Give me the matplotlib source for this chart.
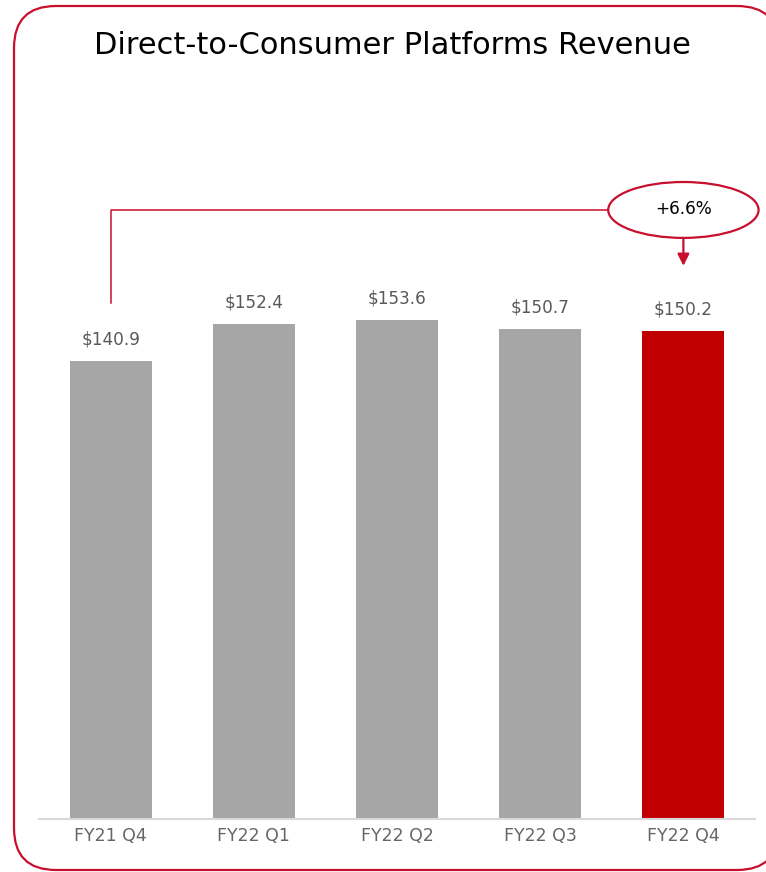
import matplotlib
matplotlib.use("Agg")
import matplotlib.pyplot as plt
from matplotlib.patches import FancyBboxPatch, Ellipse
from matplotlib.transforms import IdentityTransform

categories = ["FY21 Q4", "FY22 Q1", "FY22 Q2", "FY22 Q3", "FY22 Q4"]
values = [140.9, 152.4, 153.6, 150.7, 150.2]
labels = ["$140.9", "$152.4", "$153.6", "$150.7", "$150.2"]
growth_label = "+6.6%"
title = "Direct-to-Consumer Platforms Revenue"

GRAY = "#A6A6A6"
RED = "#C00000"
LINE_RED = "#C8102E"
FONT = "DejaVu Sans"

W, H, DPI = 766, 872, 100
fig = plt.figure(figsize=(W / DPI, H / DPI), dpi=DPI)
fig.patch.set_facecolor("white")


def fit_size(text_obj, target_px):
    r = fig.canvas.get_renderer()
    w = text_obj.get_window_extent(renderer=r).width
    text_obj.set_fontsize(text_obj.get_fontsize() * target_px / w)


# rounded border (right edge runs just past the image); filled white, drawn behind
border = FancyBboxPatch((14, 2), 765, 864, boxstyle="round,pad=0,rounding_size=42",
                        transform=IdentityTransform(), facecolor="white",
                        edgecolor=LINE_RED, linewidth=1.6, zorder=-5)
fig.patches.append(border)

ax = fig.add_axes([39 / W, 53 / H, 716 / W, 715 / H])
ax.patch.set_visible(False)
x = list(range(len(categories)))
colors = [GRAY] * (len(values) - 1) + [RED]
ax.bar(x, values, width=0.573, color=colors, zorder=2)
ax.set_xlim(-0.5, 4.5)
ax.set_ylim(0, 220)

vlabels = []
for xi, v, lab in zip(x, values, labels):
    t = ax.text(xi, v + 3.8, lab, ha="center", va="bottom", fontsize=11.5,
                color="#595959", family=FONT)
    vlabels.append(t)

ax.set_xticks(x)
ax.set_xticklabels(categories, fontsize=11.5, color="#666666", family=FONT)
ax.tick_params(axis="x", length=0, pad=6)
ax.set_yticks([])
for s in ["top", "right", "left"]:
    ax.spines[s].set_visible(False)
ax.spines["bottom"].set_color("#D9D9D9")
ax.spines["bottom"].set_linewidth(1.5)

# growth annotation
y_line = 187.4
ell_w, ell_h = 1.05, 17.2
ax.plot([0, 0, 4 - ell_w / 2], [values[0] + 18, y_line, y_line],
        color=LINE_RED, linewidth=1.1, clip_on=False)
ax.add_patch(Ellipse((4, y_line), ell_w, ell_h, facecolor="white",
                     edgecolor=LINE_RED, linewidth=1.6, clip_on=False, zorder=3))
gt = ax.text(4, y_line + 0.3, growth_label, ha="center", va="center", fontsize=11.5,
             color="black", family=FONT, zorder=4)
ax.annotate("", xy=(4, y_line - 17.2), xytext=(4, y_line - ell_h / 2),
            arrowprops=dict(arrowstyle="-|>,head_length=0.7,head_width=0.35",
                            color=LINE_RED, linewidth=1.6, shrinkA=0, shrinkB=0))

tt = fig.text(392 / W, 1 - 46 / H, title, ha="center", va="center", fontsize=18.5,
              color="black", family=FONT)

fig.canvas.draw()
fit_size(tt, 599)
fit_size(gt, 57)
fit_size(vlabels[0], 59)
for t in vlabels[1:]:
    t.set_fontsize(vlabels[0].get_fontsize())
tl = ax.get_xticklabels()
fit_size(tl[0], 73)
for t in tl[1:]:
    t.set_fontsize(tl[0].get_fontsize())

fig.savefig("out.png", dpi=DPI)
